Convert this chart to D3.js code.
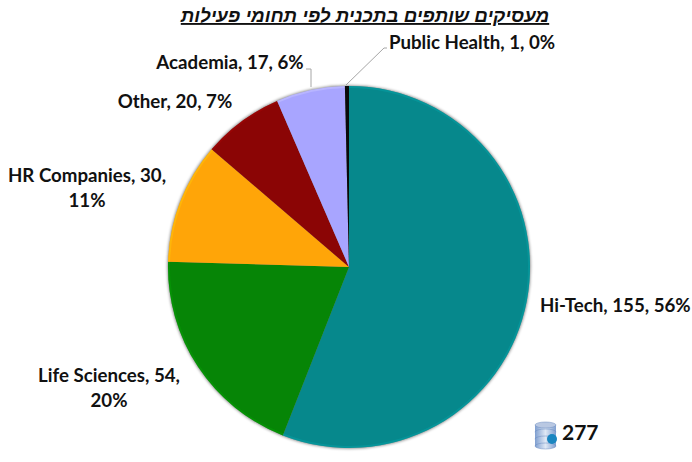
<!DOCTYPE html>
<html><head><meta charset="utf-8">
<script src="https://cdn.jsdelivr.net/npm/d3@7/dist/d3.min.js"></script>
<style>html,body{margin:0;padding:0;background:#fff}svg{display:block}
text{font-family:Lato,"Open Sans",sans-serif;font-weight:700;fill:#111}</style></head>
<body><svg id="c" width="692" height="462"></svg>
<script>
const titleText = "מעסיקים שותפים בתכנית לפי תחומי פעילות";
const categories = ["Hi-Tech","Life Sciences","HR Companies","Other","Academia","Public Health"];
const values = [155,54,30,20,17,1];
const colors = ["#06888c","#068506","#ffa508","#8b0505","#a8a5ff","#0a0a0a"];
const labelLines = [["Hi-Tech, 155, 56%"],["Life Sciences, 54,","20%"],["HR Companies, 30,","11%"],["Other, 20, 7%"],["Academia, 17, 6%"],["Public Health, 1, 0%"]];
const labelAnchors = [[540,312,"start"],[109,382,"middle"],[87,182,"middle"],[175,108,"middle"],[230,69,"middle"],[472,49,"middle"]];
const totalLabel = "277";
const leaders = [[[311,87],[311,69],[306,69]],[[346,85],[384,48],[387,48]]];
const cx=349, cy=267, R=181;
const svg=d3.select("#c");
const defs=svg.append("defs");
const blur=defs.append("filter").attr("id","sh").attr("x","-10%").attr("y","-10%").attr("width","120%").attr("height","120%");
blur.append("feGaussianBlur").attr("in","SourceAlpha").attr("stdDeviation",1.5);
const g0=defs.append("linearGradient").attr("id","db").attr("x1",0).attr("x2",1).attr("y1",0).attr("y2",0);
g0.append("stop").attr("offset",0).attr("stop-color","#7f9fd0");
g0.append("stop").attr("offset",.5).attr("stop-color","#dfe8f5");
g0.append("stop").attr("offset",1).attr("stop-color","#7f9fd0");

svg.append("text").attr("x",365).attr("y",22).attr("text-anchor","middle").attr("direction","rtl")
 .style("font-family","'Liberation Sans',Arial,sans-serif").style("font-style","italic").style("font-size","18.8px")
 .style("text-decoration","underline").text(titleText);

const pie=d3.pie().sort(null).value(d=>d);
const arcs=pie(values);
const arc=d3.arc().innerRadius(0).outerRadius(R);
const bevel=d3.arc().innerRadius(R-2).outerRadius(R);
const p=svg.append("g").attr("transform",`translate(${cx},${cy})`);
p.append("circle").attr("r",R+.5).attr("fill","#888").attr("filter","url(#sh)").attr("opacity",.5);
p.selectAll("path.s").data(arcs).join("path").attr("class","s").attr("d",arc)
 .attr("fill",(d,i)=>colors[i]);
p.selectAll("path.b").data(arcs).join("path").attr("class","b").attr("d",bevel)
 .attr("fill",(d,i)=>d3.color(colors[i]).brighter(.6)).attr("opacity",.4);

svg.selectAll("path.l").data(leaders).join("path").attr("class","l")
 .attr("d",d3.line()).attr("fill","none").attr("stroke","#a6a6a6").attr("stroke-width",1);

const t=svg.selectAll("text.lab").data(labelLines).join("text").attr("class","lab")
 .style("font-size","18.7px")
 .attr("text-anchor",(d,i)=>labelAnchors[i][2]);
t.each(function(d,i){
  d3.select(this).selectAll("tspan").data(d).join("tspan")
   .attr("x",labelAnchors[i][0]).attr("y",(s,j)=>labelAnchors[i][1]+j*25).text(s=>s);
});

const ic=svg.append("g").attr("transform","translate(535,422)");
[[0,16],[7,9],[14,2]].forEach(([y])=>{
 ic.append("rect").attr("x",0).attr("y",y+3).attr("width",21).attr("height",7).attr("fill","url(#db)");
 ic.append("ellipse").attr("cx",10.5).attr("cy",y+10).attr("rx",10.5).attr("ry",3).attr("fill","url(#db)").attr("stroke","#6d8cc0").attr("stroke-width",.5);
});
ic.append("ellipse").attr("cx",10.5).attr("cy",3).attr("rx",10.5).attr("ry",3).attr("fill","#b9c8e2").attr("stroke","#6d8cc0").attr("stroke-width",.5);
ic.append("circle").attr("cx",17).attr("cy",17).attr("r",5).attr("fill","#1a86c0");
svg.append("text").attr("x",562).attr("y",440).style("font-size","21px").text(totalLabel);
</script></body></html>
